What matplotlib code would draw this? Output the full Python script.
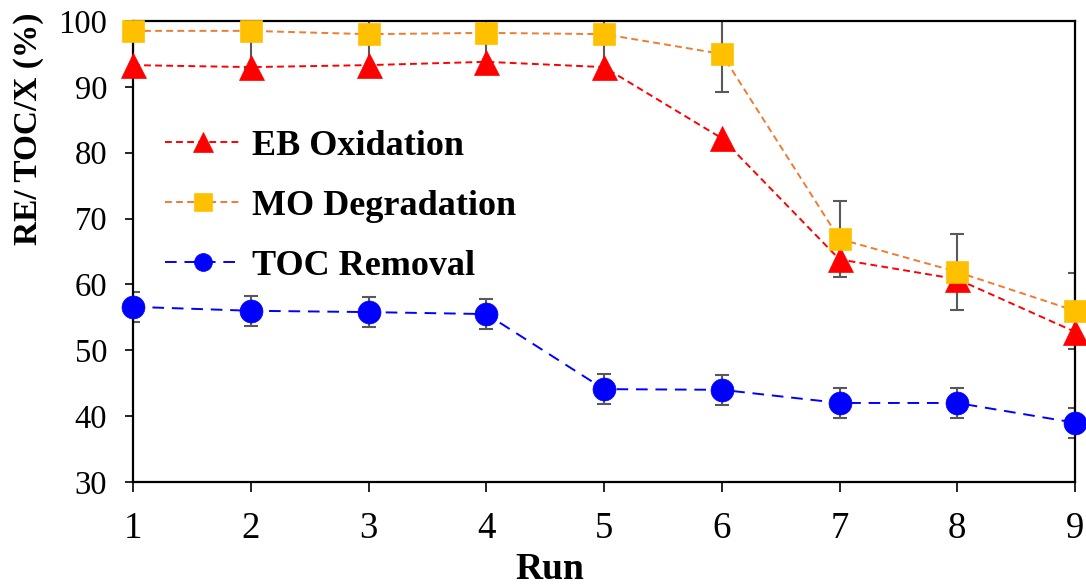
import matplotlib
matplotlib.use("Agg")
import matplotlib.pyplot as plt

# ---- data ----
runs = [1, 2, 3, 4, 5, 6, 7, 8, 9]
eb_oxidation = [93.3, 93.0, 93.3, 93.8, 93.0, 82.2, 63.8, 60.8, 52.8]
mo_degradation = [98.5, 98.5, 98.0, 98.2, 98.0, 95.0, 66.9, 61.9, 56.0]
mo_err = [5.8, 5.8, 5.8, 5.8, 5.8, 5.8, 5.8, 5.8, 5.8]
toc_removal = [56.6, 56.0, 55.8, 55.5, 44.1, 44.0, 42.0, 42.0, 39.0]
toc_err = [2.3, 2.3, 2.3, 2.3, 2.3, 2.3, 2.3, 2.3, 2.3]
labels = ["EB Oxidation", "MO Degradation", "TOC Removal"]
y_ticks = [30, 40, 50, 60, 70, 80, 90, 100]

plt.rcParams['font.family'] = ['Liberation Serif', 'DejaVu Serif']

fig = plt.figure(figsize=(10.86, 5.86), dpi=100)
ax = fig.add_axes([133/1086, 1-482/586, (1075-133)/1086, (482-21)/586])

err_color = '#595959'
ekw = dict(fmt='none', ecolor=err_color, elinewidth=1.5, capsize=5, capthick=1.5, zorder=2)
ax.errorbar(runs, mo_degradation, yerr=mo_err, **ekw)
ax.errorbar(runs, toc_removal, yerr=toc_err, **ekw)

l1, = ax.plot(runs, eb_oxidation, linestyle=(0, (3.5, 2.2)), color='#FF0000', lw=1.4,
              marker='^', ms=18, mfc='#FF0000', mec='#FF0000', mew=0.5,
              zorder=3, clip_on=False, label=labels[0])
l2, = ax.plot(runs, mo_degradation, linestyle=(0, (3.5, 2.2)), color='#ED7D31', lw=1.4,
              marker='s', ms=16.5, mfc='#FFC000', mec='#FFC000', mew=0.5,
              zorder=4, clip_on=False, label=labels[1])
l3, = ax.plot(runs, toc_removal, linestyle=(0, (6, 4)), color='#0000FF', lw=1.4,
              marker='o', ms=16.5, mfc='#0000FF', mec='#0000FF', mew=0.5,
              zorder=5, clip_on=False, label=labels[2])

ax.set_xlim(1, 9)
ax.set_ylim(30, 100)
ax.set_xticks(runs)
ax.set_yticks(y_ticks)

ax.tick_params(axis='y', direction='out', length=6, width=1.2, labelsize=23.5, pad=12.5)
ax.tick_params(axis='x', direction='out', length=7, width=1.2, labelsize=26.5, pad=14)
for s in ax.spines.values():
    s.set_linewidth(1.6)
    s.set_color('black')

ax.set_ylabel("RE/ TOC/X (%)", fontsize=24, fontweight='bold')
ax.yaxis.set_label_coords(-0.095, 0.767)
ax.set_xlabel("Run", fontsize=27, fontweight='bold')
ax.xaxis.set_label_coords(0.442, -0.151)

leg = ax.legend(handles=[l1, l2, l3], loc='upper left', bbox_to_anchor=(0.034, 0.765),
                frameon=False, prop={'size': 26, 'weight': 'bold'},
                handlelength=2.12, handletextpad=0.28, labelspacing=0.74,
                borderpad=0, borderaxespad=0, numpoints=1, markerscale=0.78)

fig.savefig("out.png", dpi=100)
